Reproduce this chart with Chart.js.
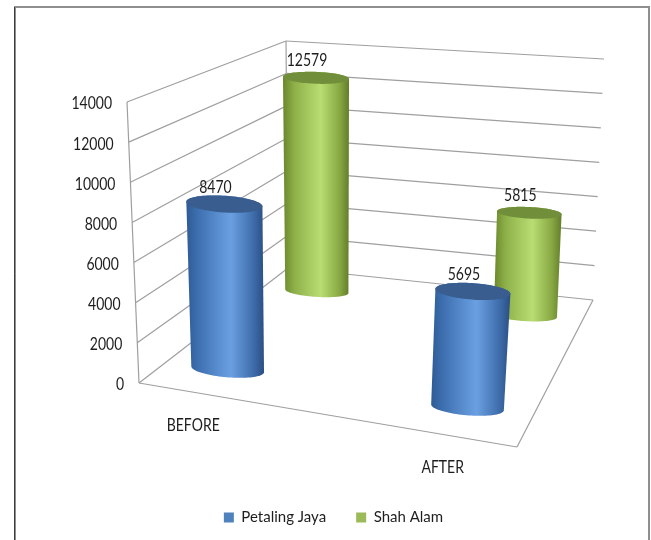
<!DOCTYPE html>
<html>
<head>
<meta charset="utf-8">
<title>Petaling Jaya / Shah Alam</title>
<script src="https://cdn.jsdelivr.net/npm/chart.js@4.4.1/dist/chart.umd.min.js"></script>
<style>
  html, body { margin: 0; padding: 0; background: #fff; }
  canvas { display: block; }
</style>
</head>
<body>
<canvas id="chart" width="651" height="540"></canvas>
<script>
const categories = ['BEFORE', 'AFTER'];
const seriesNames = ['Petaling Jaya', 'Shah Alam'];
const petalingJaya = [8470, 5695];
const shahAlam = [12579, 5815];
const axisMin = 0;
const axisMax = 14000;
const axisStep = 2000;

const FONT = "Lato, 'Open Sans', sans-serif";
const TEXT = '#1e1e1e';
const GRID = '#9f9f9f';

// Corners of the 3D plot box in canvas pixels
// f/b = front/back, l/r = left/right, b/t = bottom/top
const box = {
    flb: [139, 383], flt: [127, 102],
    blb: [288, 268], blt: [286, 41],
    frb: [517, 447], frt: [537, 147],
    brb: [593, 300], brt: [604, 59]
};

// Look of each series: depth row in the box, ellipse flatness and shading
const looks = [
    {
        depth: 0.2,
        flat: 0.22,
        cap: '#385d8e',
        stops: [[0, '#2e5b96'], [0.18, '#4173b4'], [0.57, '#6aa0e2'], [0.86, '#3f6dab'], [1, '#2a4f84']]
    },
    {
        depth: 0.85,
        flat: 0.18,
        cap: '#718e3a',
        stops: [[0, '#6a872c'], [0.18, '#8fb14a'], [0.57, '#b9dd72'], [0.86, '#87a743'], [1, '#637d2a']]
    }
];

function lerp(a, b, k) {
    return [a[0] + (b[0] - a[0]) * k, a[1] + (b[1] - a[1]) * k];
}

// u = along categories, w = depth (0 front, 1 back), t = height fraction of value axis
function project(u, w, t) {
    const bottom = lerp(lerp(box.flb, box.frb, u), lerp(box.blb, box.brb, u), w);
    const top = lerp(lerp(box.flt, box.frt, u), lerp(box.blt, box.brt, u), w);
    return lerp(bottom, top, t);
}

function convexHull(pts) {
    const p = pts.slice().sort((a, b) => a[0] - b[0] || a[1] - b[1]);
    const cross = (o, a, b) => (a[0] - o[0]) * (b[1] - o[1]) - (a[1] - o[1]) * (b[0] - o[0]);
    const lower = [];
    for (const q of p) {
        while (lower.length >= 2 && cross(lower[lower.length - 2], lower[lower.length - 1], q) <= 0) lower.pop();
        lower.push(q);
    }
    const upper = [];
    for (let i = p.length - 1; i >= 0; i--) {
        const q = p[i];
        while (upper.length >= 2 && cross(upper[upper.length - 2], upper[upper.length - 1], q) <= 0) upper.pop();
        upper.push(q);
    }
    upper.pop();
    lower.pop();
    return lower.concat(upper);
}

function line(ctx, a, b) {
    ctx.beginPath();
    ctx.moveTo(a[0], a[1]);
    ctx.lineTo(b[0], b[1]);
    ctx.stroke();
}

// text is drawn a little taller than wide, like the rest of the sheet
function tallText(ctx, s, x, y) {
    ctx.save();
    ctx.translate(x, y);
    ctx.scale(1, 1.2);
    ctx.fillText(s, 0, 0);
    ctx.restore();
}

// ellipse of a cylinder slice at height t
function ring(uc, wc, t, r, flat) {
    const c = project(uc, wc, t);
    const l = project(uc - r, wc, t);
    const rr = project(uc + r, wc, t);
    const hx = (rr[0] - l[0]) / 2;
    const hy = (rr[1] - l[1]) / 4;
    const ry = hx * flat;
    const pts = [];
    for (let k = 0; k < 90; k++) {
        const a = (k / 90) * Math.PI * 2;
        pts.push([c[0] + hx * Math.cos(a), c[1] + hy * Math.cos(a) + ry * Math.sin(a)]);
    }
    return pts;
}

function drawCylinder(ctx, uc, wc, t, look) {
    const r = 0.1;
    const base = ring(uc, wc, 0, r, look.flat);
    const top = ring(uc, wc, t, r, look.flat);
    const outline = convexHull(base.concat(top));
    let minX = Infinity, maxX = -Infinity;
    outline.forEach(p => { minX = Math.min(minX, p[0]); maxX = Math.max(maxX, p[0]); });

    const grad = ctx.createLinearGradient(minX, 0, maxX, 0);
    look.stops.forEach(s => grad.addColorStop(s[0], s[1]));
    ctx.beginPath();
    outline.forEach((p, i) => i ? ctx.lineTo(p[0], p[1]) : ctx.moveTo(p[0], p[1]));
    ctx.closePath();
    ctx.fillStyle = grad;
    ctx.fill();

    // top cap
    ctx.beginPath();
    top.forEach((p, i) => i ? ctx.lineTo(p[0], p[1]) : ctx.moveTo(p[0], p[1]));
    ctx.closePath();
    ctx.fillStyle = look.cap;
    ctx.fill();
}

const scene3d = {
    id: 'scene3d',
    beforeDraw(chart) {
        const ctx = chart.ctx;
        ctx.save();
        ctx.fillStyle = '#fff';
        ctx.fillRect(0, 0, chart.width, chart.height);
        // frame
        ctx.strokeStyle = '#8f8f8f';
        ctx.lineWidth = 2;
        ctx.beginPath();
        ctx.moveTo(15, chart.height);
        ctx.lineTo(15, 7);
        ctx.lineTo(649, 7);
        ctx.lineTo(649, chart.height);
        ctx.stroke();
        ctx.strokeStyle = '#3c3c3c';
        ctx.lineWidth = 1;
        line(ctx, [14.5, 7], [14.5, chart.height]);
        ctx.restore();
    },
    beforeDatasetsDraw(chart) {
        const ctx = chart.ctx;
        const xs = chart.scales.x;
        const ys = chart.scales.y;
        const y0 = ys.getPixelForValue(axisMin);
        const y1 = ys.getPixelForValue(axisMax);
        const frac = v => (y0 - ys.getPixelForValue(v)) / (y0 - y1);
        // spread category centres over the floor
        const catU = j => 0.492 + ((xs.getPixelForValue(j) - xs.left) / xs.width - 0.5) * 1.32;

        ctx.save();
        // walls and floor
        ctx.strokeStyle = GRID;
        ctx.lineWidth = 1.2;
        ys.ticks.forEach(tk => {
            const t = frac(tk.value);
            line(ctx, project(0, 0, t), project(0, 1, t));
            line(ctx, project(0, 1, t), project(1, 1, t));
        });
        line(ctx, project(0, 0, 0), project(0, 0, 1));
        line(ctx, project(0, 1, 0), project(0, 1, 1));
        line(ctx, project(0, 0, 0), project(1, 0, 0));
        line(ctx, project(1, 0, 0), project(1, 1, 0));

        // value axis labels
        ctx.fillStyle = TEXT;
        ctx.font = '14px ' + FONT;
        ctx.textAlign = 'right';
        ctx.textBaseline = 'middle';
        ys.ticks.forEach(tk => {
            const p = project(0, 0, frac(tk.value));
            tallText(ctx, String(tk.value), p[0] - 15, p[1] + 2);
        });

        // category labels
        ctx.textAlign = 'center';
        chart.data.labels.forEach((lab, j) => {
            const p = project(catU(j), 0, 0);
            tallText(ctx, lab, p[0] - 7, p[1] + 32);
        });

        // cylinders, back row first
        const order = chart.data.datasets.map((d, i) => i).sort((a, b) => looks[b].depth - looks[a].depth);
        const tops = [];
        order.forEach(i => {
            const ds = chart.data.datasets[i];
            ds.data.forEach((v, j) => {
                const t = frac(v);
                const u = catU(j);
                drawCylinder(ctx, u, looks[i].depth, t, looks[i]);
                tops.push({ v, p: project(u, looks[i].depth, t) });
            });
        });

        // value labels
        ctx.fillStyle = TEXT;
        tops.forEach(o => tallText(ctx, String(o.v), o.p[0] - 9, o.p[1] - 17));
        ctx.restore();
        return false;
    }
};

new Chart(document.getElementById('chart'), {
    type: 'bar',
    data: {
        labels: categories,
        datasets: [
            { label: seriesNames[0], data: petalingJaya, backgroundColor: '#4f81bd', borderWidth: 0 },
            { label: seriesNames[1], data: shahAlam, backgroundColor: '#9bbb59', borderWidth: 0 }
        ]
    },
    options: {
        responsive: false,
        animation: false,
        layout: { padding: { left: 16, bottom: 5 } },
        scales: {
            x: { display: false },
            y: { display: false, min: axisMin, max: axisMax, ticks: { stepSize: axisStep } }
        },
        plugins: {
            legend: {
                position: 'bottom',
                labels: {
                    boxWidth: 10,
                    boxHeight: 10,
                    padding: 30,
                    color: TEXT,
                    font: { family: FONT, size: 15 }
                }
            },
            tooltip: { enabled: false }
        }
    },
    plugins: [scene3d]
});
</script>
</body>
</html>
